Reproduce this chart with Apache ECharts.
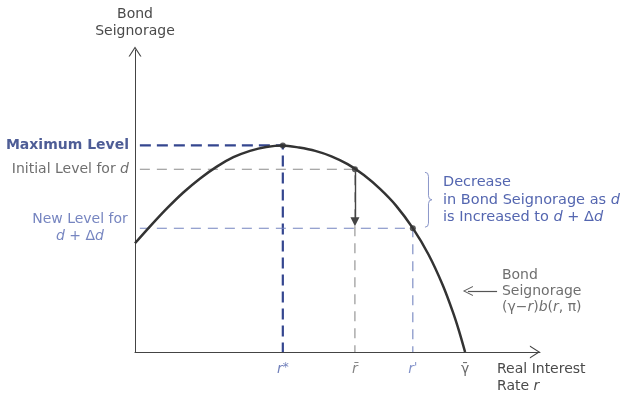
<!DOCTYPE html>
<html>
<head>
<meta charset="utf-8">
<script src="https://cdn.jsdelivr.net/npm/echarts@6/dist/echarts.min.js"></script>
<style>
html, body { margin: 0; background: #fff; }
#chart { width: 625px; height: 395px; }
</style>
</head>
<body>
<div id="chart"></div>
<script>
// bond seignorage curve (x = real interest rate, y = seignorage)
var curveR = [0, 4, 8, 12, 16, 20.2, 24.3, 28.4, 32.4, 36.5, 40.5, 44.5, 48.5, 52.5, 56.5, 60.5, 64.5, 68.6, 72.5, 76, 78.5, 80, 81.5];
var curveS = [36.0, 42.0, 47.7, 52.9, 57.4, 61.4, 64.5, 66.6, 67.9, 68.4, 67.7, 66.6, 64.8, 62.2, 58.6, 54.0, 48.4, 41.0, 32.2, 22.1, 13.2, 7.0, 0];

// maximum / initial / new level and the rate where the curve hits it
var levels = [68.4, 60.5, 41.0];
var levelRates = [36.5, 54.3, 68.6];
var levelTexts = ['Maximum Level', 'Initial Level for {i|d}', 'New Level for\n{i|d} + Δ{i|d}'];

// markers under the x axis
var tickRates = [36.5, 54.3, 68.6, 81.5];
var tickTexts = ['{i|r}{s|*}', '{i|r\u0304}', "{i|r}{s|'}", '\u03b3\u0304'];

var font = 'DejaVu Sans';
var chevron = 'path://M0,11 L7,0 L14,11 L12.6,11 L7,2.2 L1.4,11 Z';

var guideStyles = [
	{ color: '#34468f', width: 2.2, type: [11, 6] },
	{ color: '#8c8c8c', width: 1.1, type: [10, 7] },
	{ color: '#7484c0', width: 1.1, type: [10, 7] }
];
var levelColors = ['#22347c', '#4a4a4a', '#5466b0'];
var tickColors = ['#4f62aa', '#666666', '#6276bb', '#444444'];

var series = [];

// dashed guide lines
for (var k = 0; k < levels.length; k++) {
	series.push({
		type : 'line',
		silent : true,
		symbol : 'none',
		z : 1,
		lineStyle : guideStyles[k],
		data : [ [ 1.2, levels[k] ], [ levelRates[k], levels[k] ], [ levelRates[k], 0 ] ]
	});
}

series.push({
	type : 'line',
	silent : true,
	symbol : 'none',
	smooth : 0.3,
	z : 3,
	lineStyle : { color : '#333', width : 2.5 },
	data : curveR.map(function(r, i) { return [ r, curveS[i] ]; })
});

// dots where the levels touch the curve, plus the drop arrow
series.push({
	type : 'scatter',
	silent : true,
	symbolSize : 6,
	z : 4,
	itemStyle : { color : '#333' },
	data : levels.map(function(v, i) { return [ levelRates[i], v ]; }),
	markLine : {
		silent : true,
		symbol : [ 'none', 'triangle' ],
		symbolSize : 9,
		lineStyle : { color : '#444', width : 1.4, type : 'solid' },
		label : { show : false },
		data : [ [ { coord : [ levelRates[1], levels[1] - 0.8 ] }, { coord : [ levelRates[1], levels[2] + 2.1 ] } ] ]
	}
});

// level labels left of the y axis
series.push({
	type : 'scatter',
	silent : true,
	symbolSize : 0,
	data : levels.map(function(v, i) {
		var lab = {
			show : true,
			position : 'left',
			distance : 6,
			formatter : levelTexts[i],
			fontFamily : font,
			fontSize : 14,
			lineHeight : 17,
			color : levelColors[i],
			fontWeight : i === 0 ? 'bold' : 'normal',
			rich : { i : { fontStyle : 'italic', fontFamily : font, fontSize : 14, color : levelColors[i] } }
		};
		if (i === 2) {
			lab.align = 'center';
			lab.offset = [ -49, 0 ];
		}
		return { value : [ 0, v ], label : lab };
	})
});

// rate markers
series.push({
	type : 'scatter',
	silent : true,
	symbolSize : 0,
	data : tickRates.map(function(r, i) {
		return {
			value : [ r, 0 ],
			label : {
				show : true,
				position : 'bottom',
				distance : 10,
				formatter : tickTexts[i],
				fontFamily : font,
				fontSize : 14,
				color : tickColors[i],
				rich : {
					i : { fontStyle : 'italic', fontFamily : font, fontSize : 14, color : tickColors[i] },
					s : { fontFamily : font, fontSize : 12, color : tickColors[i], verticalAlign : 'top' }
				}
			}
		};
	})
});

// label for the curve with its pointer
series.push({
	type : 'scatter',
	silent : true,
	symbolSize : 0,
	data : [ {
		value : [ 90.6, 20.2 ],
		label : {
			show : true,
			position : 'right',
			distance : 0,
			formatter : 'Bond\nSeignorage\n(γ−{i|r}){i|b}({i|r}, π)',
			fontFamily : font,
			fontSize : 14,
			lineHeight : 16,
			color : '#4a4a4a',
			rich : { i : { fontStyle : 'italic', fontFamily : font, fontSize : 14, color : '#4a4a4a' } }
		}
	} ],
	markLine : {
		silent : true,
		symbol : [ 'none', chevron ],
		symbolSize : 10,
		lineStyle : { color : '#555', width : 1.2, type : 'solid' },
		label : { show : false },
		data : [ [ { coord : [ 89.4, 20.2 ] }, { coord : [ 82.2, 20.2 ] } ] ]
	}
});

// brace spanning the drop from initial to new level
series.push({
	type : 'custom',
	silent : true,
	data : [ [ 71.6, levels[1], levels[2] ] ],
	renderItem : function(params, api) {
		var top = api.coord([ api.value(0), api.value(1) ]);
		var bot = api.coord([ api.value(0), api.value(2) ]);
		var x0 = top[0], t = top[1] + 3, b = bot[1] - 1, m = (t + b) / 2, h = x0 + 3.5, w = x0 + 7;
		var p = 'M' + x0 + ',' + t + ' Q' + h + ',' + t + ' ' + h + ',' + (t + 4)
			+ ' L' + h + ',' + (m - 4) + ' Q' + h + ',' + m + ' ' + w + ',' + m
			+ ' Q' + h + ',' + m + ' ' + h + ',' + (m + 4)
			+ ' L' + h + ',' + (b - 4) + ' Q' + h + ',' + b + ' ' + x0 + ',' + b;
		return {
			type : 'group',
			children : [ {
				type : 'path',
				shape : { pathData : p },
				style : { fill : null, stroke : '#8b97c9', lineWidth : 1 }
			}, {
				type : 'text',
				x : w + 11,
				y : m,
				style : {
					text : 'Decrease\nin Bond Seignorage as {i|d}\nis Increased to {i|d} + Δ{i|d}',
					font : '14.5px "' + font + '"',
					fill : '#5466b0',
					lineHeight : 17.5,
					align : 'left',
					verticalAlign : 'middle',
					rich : { i : { fontStyle : 'italic', fontFamily : font, fontSize : 14.5, fill : '#5466b0' } }
				}
			} ]
		};
	}
});

var myChart = echarts.init(document.getElementById('chart'));
myChart.setOption({
	animation : false,
	backgroundColor : '#fff',
	grid : { left : 135, right : 85, top : 50, bottom : 43 },
	xAxis : {
		type : 'value',
		min : 0,
		max : 100,
		name : 'Real Interest\nRate {i|r}',
		nameLocation : 'end',
		nameGap : -43,
		nameTextStyle : {
			fontFamily : font,
			fontSize : 14,
			color : '#4a4a4a',
			lineHeight : 17,
			align : 'left',
			verticalAlign : 'top',
			padding : [ 9, 0, 0, 0 ],
			rich : { i : { fontStyle : 'italic', fontFamily : font, fontSize : 14, color : '#4a4a4a' } }
		},
		axisLine : {
			symbol : [ 'none', chevron ],
			symbolSize : [ 13, 11 ],
			symbolOffset : [ 0, -5 ],
			lineStyle : { color : '#444', width : 1 }
		},
		axisTick : { show : false },
		axisLabel : { show : false },
		splitLine : { show : false }
	},
	yAxis : {
		type : 'value',
		min : 0,
		max : 100,
		name : 'Bond\nSeignorage',
		nameLocation : 'end',
		nameGap : 10,
		nameTextStyle : { fontFamily : font, fontSize : 14, color : '#4a4a4a', lineHeight : 17, align : 'center' },
		axisLine : {
			symbol : [ 'none', chevron ],
			symbolSize : [ 13, 11 ],
			symbolOffset : [ 0, -1.5 ],
			lineStyle : { color : '#444', width : 1 }
		},
		axisTick : { show : false },
		axisLabel : { show : false },
		splitLine : { show : false }
	},
	series : series
});
</script>
</body>
</html>
